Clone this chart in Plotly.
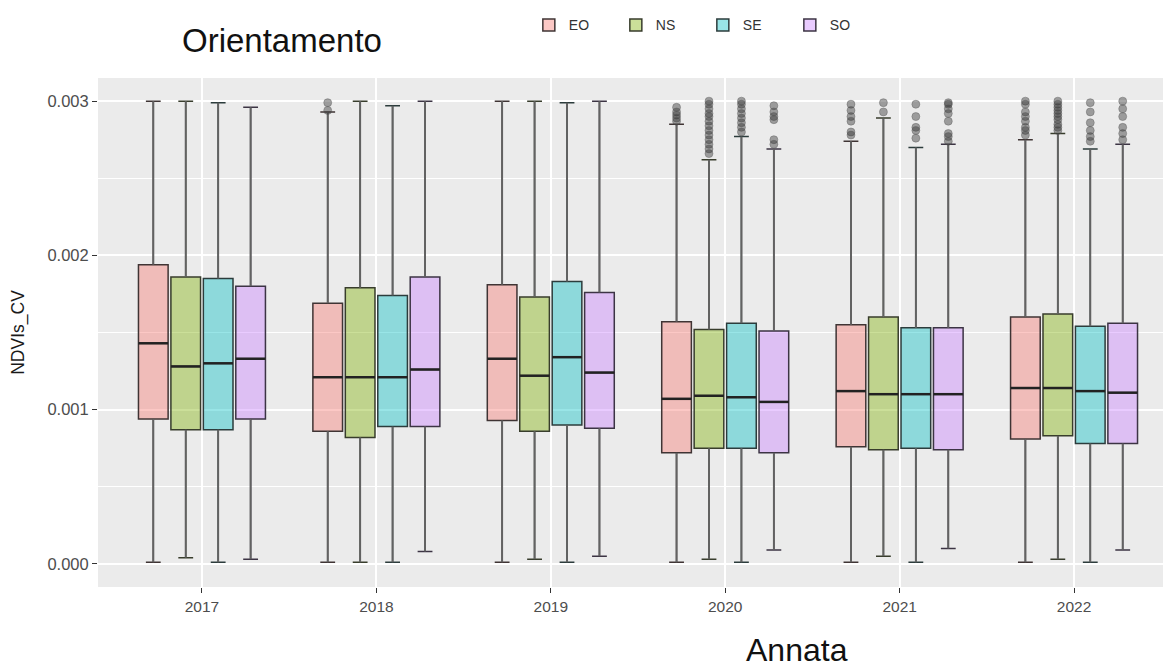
import plotly.graph_objects as go

# Years on the x axis and the four slope orientations
years = ["2017", "2018", "2019", "2020", "2021", "2022"]
orientations = ["EO", "NS", "SE", "SO"]

# Box statistics of NDVIs_CV per orientation, one value per year
q1 = {
    "EO": [0.00094, 0.00086, 0.00093, 0.00072, 0.00076, 0.00081],
    "NS": [0.00087, 0.00082, 0.00086, 0.00075, 0.00074, 0.00083],
    "SE": [0.00087, 0.00089, 0.00090, 0.00075, 0.00075, 0.00078],
    "SO": [0.00094, 0.00089, 0.00088, 0.00072, 0.00074, 0.00078],
}
median = {
    "EO": [0.00143, 0.00121, 0.00133, 0.00107, 0.00112, 0.00114],
    "NS": [0.00128, 0.00121, 0.00122, 0.00109, 0.00110, 0.00114],
    "SE": [0.00130, 0.00121, 0.00134, 0.00108, 0.00110, 0.00112],
    "SO": [0.00133, 0.00126, 0.00124, 0.00105, 0.00110, 0.00111],
}
q3 = {
    "EO": [0.00194, 0.00169, 0.00181, 0.00157, 0.00155, 0.00160],
    "NS": [0.00186, 0.00179, 0.00173, 0.00152, 0.00160, 0.00162],
    "SE": [0.00185, 0.00174, 0.00183, 0.00156, 0.00153, 0.00154],
    "SO": [0.00180, 0.00186, 0.00176, 0.00151, 0.00153, 0.00156],
}
whisker_low = {
    "EO": [0.00001, 0.00001, 0.00001, 0.00001, 0.00001, 0.00001],
    "NS": [0.00004, 0.00001, 0.00003, 0.00003, 0.00005, 0.00003],
    "SE": [0.00001, 0.00001, 0.00001, 0.00001, 0.00001, 0.00001],
    "SO": [0.00003, 0.00008, 0.00005, 0.00009, 0.00010, 0.00009],
}
whisker_high = {
    "EO": [0.00300, 0.00293, 0.00300, 0.00285, 0.00274, 0.00275],
    "NS": [0.00300, 0.00300, 0.00300, 0.00262, 0.00289, 0.00279],
    "SE": [0.00299, 0.00297, 0.00299, 0.00277, 0.00270, 0.00269],
    "SO": [0.00296, 0.00300, 0.00300, 0.00269, 0.00272, 0.00272],
}
# Outlying values above the upper whisker, keyed by year
outliers = {
    "EO": {"2018": [0.00299, 0.00294],
           "2020": [0.00296, 0.00293, 0.00291, 0.00289, 0.00287],
           "2021": [0.00298, 0.00294, 0.00290, 0.00287, 0.00280, 0.00278],
           "2022": [0.00300, 0.00298, 0.00293, 0.00290, 0.00287, 0.00283, 0.00281, 0.00278]},
    "NS": {"2020": [0.00300, 0.00298, 0.00295, 0.00292, 0.00290, 0.00287, 0.00284,
                    0.00281, 0.00278, 0.00275, 0.00272, 0.00269, 0.00266],
           "2021": [0.00299, 0.00293],
           "2022": [0.00300, 0.00298, 0.00296, 0.00294, 0.00292, 0.00290, 0.00288,
                    0.00285, 0.00283, 0.00281]},
    "SE": {"2020": [0.00300, 0.00298, 0.00295, 0.00292, 0.00289, 0.00286, 0.00283, 0.00280],
           "2021": [0.00298, 0.00290, 0.00283, 0.00281, 0.00276],
           "2022": [0.00299, 0.00293, 0.00286, 0.00281, 0.00277, 0.00274]},
    "SO": {"2020": [0.00297, 0.00293, 0.00290, 0.00288, 0.00275, 0.00272],
           "2021": [0.00299, 0.00298, 0.00295, 0.00292, 0.00287, 0.00279, 0.00277, 0.00274],
           "2022": [0.00300, 0.00295, 0.00290, 0.00283, 0.00279, 0.00275]},
}
y_ticks = [0.0, 0.001, 0.002, 0.003]
y_tick_labels = ["0.000", "0.001", "0.002", "0.003"]

fills = {
    "EO": "rgba(248,118,109,0.40)",
    "NS": "rgba(124,174,0,0.40)",
    "SE": "rgba(0,191,196,0.40)",
    "SO": "rgba(199,124,255,0.40)",
}
outlines = {"EO": "#3f3434", "NS": "#383d2c", "SE": "#2c3c3c", "SO": "#3c3444"}

dodge = 0.186
box_w = 0.17

fig = go.Figure()

for k, g in enumerate(orientations):
    pos = [i + (k - 1.5) * dodge for i in range(len(years))]
    fig.add_trace(go.Box(
        name=g, x=pos,
        q1=q1[g], median=median[g], q3=q3[g],
        lowerfence=whisker_low[g], upperfence=whisker_high[g],
        width=box_w, fillcolor=fills[g],
        line=dict(color=outlines[g], width=1.5),
        boxpoints=False, showlegend=True, hoverinfo="skip",
    ))

# whiskers, medians and outlying points drawn on top of the boxes
for k, g in enumerate(orientations):
    pos = [i + (k - 1.5) * dodge for i in range(len(years))]
    wx, wy, mx, my = [], [], [], []
    for j, p in enumerate(pos):
        wx += [p, p, None, p, p, None]
        wy += [whisker_low[g][j], q1[g][j], None, q3[g][j], whisker_high[g][j], None]
        mx += [p - box_w / 2, p + box_w / 2, None]
        my += [median[g][j], median[g][j], None]
    fig.add_trace(go.Scatter(x=wx, y=wy, mode="lines",
                             line=dict(color="#626262", width=1.9),
                             showlegend=False, hoverinfo="skip"))
    fig.add_trace(go.Scatter(x=mx, y=my, mode="lines",
                             line=dict(color="#222222", width=2.5),
                             showlegend=False, hoverinfo="skip"))
    ox, oy = [], []
    for yr, vals in outliers[g].items():
        p = pos[years.index(yr)]
        ox += [p] * len(vals)
        oy += vals
    fig.add_trace(go.Scatter(x=ox, y=oy, mode="markers",
                             marker=dict(color="rgba(45,45,45,0.42)", size=8,
                                         line=dict(width=0.8, color="rgba(90,90,90,0.5)")),
                             showlegend=False, hoverinfo="skip"))

font_family = "Liberation Sans, Arial, sans-serif"

fig.update_layout(
    width=1170, height=667,
    margin=dict(l=98, r=7, t=78, b=80),
    paper_bgcolor="white",
    plot_bgcolor="#EBEBEB",
    font=dict(family=font_family, color="#4D4D4D", size=15),
    showlegend=True,
    legend=dict(
        orientation="h", xref="container", yref="container",
        x=0.452, y=0.962, xanchor="left", yanchor="middle",
        font=dict(size=14, color="#333333", family=font_family),
        bgcolor="rgba(0,0,0,0)",
        entrywidth=42, entrywidthmode="pixels",
        itemclick=False,
    ),
    xaxis=dict(
        range=[-0.596, 5.51],
        tickmode="array", tickvals=list(range(len(years))), ticktext=years,
        showgrid=True, gridcolor="white", gridwidth=2,
        ticks="outside", ticklen=5, tickcolor="#333333", tickwidth=1,
        zeroline=False, showline=False,
        tickfont=dict(size=15.5, color="#4D4D4D"),
    ),
    yaxis=dict(
        range=[-0.00015, 0.00315],
        tickmode="array", tickvals=y_ticks, ticktext=y_tick_labels,
        showgrid=True, gridcolor="white", gridwidth=2,
        minor=dict(tickvals=[0.0005, 0.0015, 0.0025], showgrid=True,
                   gridcolor="white", gridwidth=1, ticks=""),
        ticks="outside", ticklen=5, tickcolor="#333333", tickwidth=1,
        zeroline=False, showline=False,
        tickfont=dict(size=16.5, color="#4D4D4D"),
        title=dict(text="NDVIs_CV", font=dict(size=17.5, color="#1a1a1a"), standoff=18),
    ),
    annotations=[
        dict(text="Orientamento", xref="paper", yref="paper",
             x=(282 - 98) / (1170 - 105), y=1 + (78 - 40) / (667 - 158),
             xanchor="center", yanchor="middle", showarrow=False,
             font=dict(size=33, color="#111111", family=font_family)),
        dict(text="Annata", xref="paper", yref="paper",
             x=(797 - 98) / (1170 - 105), y=-(650 - 587) / (667 - 158),
             xanchor="center", yanchor="middle", showarrow=False,
             font=dict(size=32, color="#111111", family=font_family)),
    ],
)

fig.write_html("out.html")
